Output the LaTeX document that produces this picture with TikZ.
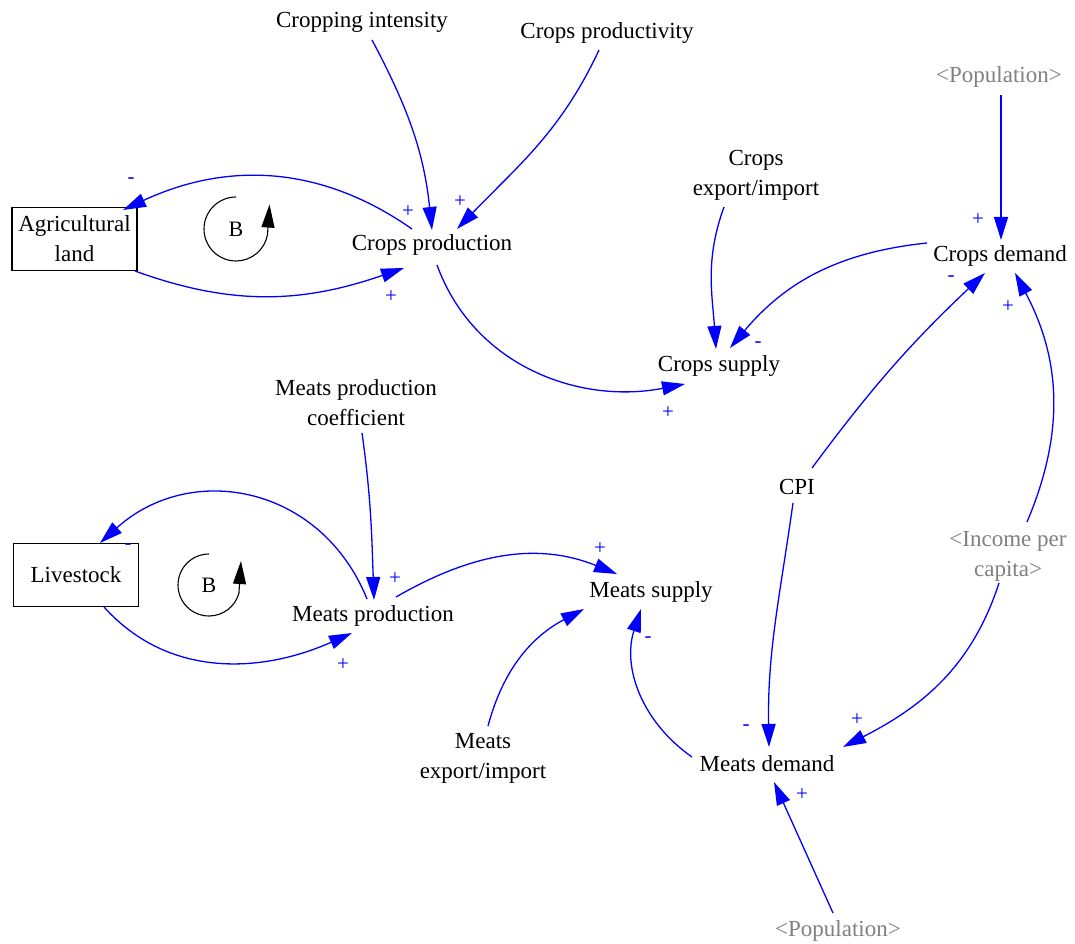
\documentclass[tikz,border=0pt]{standalone}
\usepackage{fontspec}
\setmainfont{Liberation Serif}
\usetikzlibrary{arrows.meta}
\definecolor{shadowgray}{RGB}{128,128,128}
\begin{document}
\begin{tikzpicture}[x=1pt,y=1pt,
  var/.style={inner sep=0pt,align=center,font=\fontsize{23}{30}\selectfont},
  shadow/.style={var,text=shadowgray},
  stock/.style={var,draw=black,line width=1.1pt,minimum width=125pt,minimum height=63pt},
  link/.style={draw=blue,line width=1.3pt,-{Triangle[length=23pt,width=14pt]}},
  pol/.style={inner sep=0pt,text=blue,font=\fontsize{21}{21}\selectfont},
  looparrow/.style={draw=black,line width=1.1pt,-{Triangle[length=23pt,width=13pt]}},
  looptext/.style={inner sep=0pt,font=\fontsize{22}{22}\selectfont}]
\useasboundingbox (0,0) rectangle (1075,943);

% variables
\node[var] (ci) at (362,921) {Cropping intensity};
\node[var] (cp) at (607,910) {Crops productivity};
\node[shadow] (pop1) at (999,866) {<Population>};
\node[var] (cei) at (756,768) {Crops\\export/import};
\node[stock] (al) at (74.5,704) {Agricultural\\land};
\node[var] (cprod) at (432,698) {Crops production};
\node[var] (cdem) at (1000,687) {Crops demand};
\node[var] (csup) at (719,577) {Crops supply};
\node[var] (mpc) at (356,540) {Meats production\\coefficient};
\node[var] (cpi) at (797,456) {CPI};
\node[shadow] (inc) at (1008,387) {<Income per\\capita>};
\node[stock] (ls) at (76,368) {Livestock};
\node[var] (mprod) at (373,327) {Meats production};
\node[var] (msup) at (651,351) {Meats supply};
\node[var] (mei) at (483,185) {Meats\\export/import};
\node[var] (mdem) at (767,179) {Meats demand};
\node[shadow] (pop2) at (838,12) {<Population>};

% loop symbols
\node[looptext] (b1) at (236,714) {B};
\draw[looparrow] ([yshift=32]b1.center) arc[start angle=90,end angle=350,radius=32] -- ++(2,30);
\node[looptext] (b2) at (209,358) {B};
\draw[looparrow] ([yshift=31]b2.center) arc[start angle=90,end angle=345,radius=31] -- ++(2,32);

% links
\draw[link] ([shift={(10,-18)}]ci.center) to[out=-62,in=96] ([shift={(0,15)}]cprod.center);
\draw[link] ([shift={(-8,-17)}]cp.center) to[out=-115,in=46] ([shift={(25,16)}]cprod.center);
\draw[link] ([shift={(-20,16)}]cprod.center) to[out=145,in=25] ([shift={(48.5,29)}]al.center);
\draw[link] ([shift={(60.5,-32)}]al.center) to[out=-20,in=199] ([shift={(-28,-23)}]cprod.center);
\draw[link] ([shift={(5,-20)}]cprod.center) to[out=-70,in=191] ([shift={(-34,-18)}]csup.center);
\draw[link] ([shift={(-32,-32)}]cei.center) to[out=-110,in=94] ([shift={(-3,17)}]csup.center);
\draw[link] ([shift={(-73,13)}]cdem.center) to[out=186,in=50] ([shift={(11,18)}]csup.center);
\draw[link] ([shift={(2,-18)}]pop1.center) -- ([shift={(1,16)}]cdem.center);
\draw[link] ([shift={(15,19)}]cpi.center) to[bend left=5] ([shift={(-15,-17)}]cdem.center);
\draw[link] ([shift={(19,34)}]inc.center) to[out=67,in=-62] ([shift={(15,-17)}]cdem.center);
\draw[link] ([shift={(-4,-16)}]cpi.center) to[out=-98,in=91] ([shift={(2,17)}]mdem.center);
\draw[link] ([shift={(-9,-27)}]inc.center) to[out=-108,in=27] ([shift={(76,17)}]mdem.center);
\draw[link] ([shift={(-75,7)}]mdem.center) to[out=145,in=-108] ([shift={(-10,-17)}]msup.center);
\draw[link] ([shift={(-5,18)}]pop2.center) -- ([shift={(7,-18)}]mdem.center);
\draw[link] ([shift={(5,32)}]mei.center) to[out=75,in=208] ([shift={(-67,-17)}]msup.center);
\draw[link] ([shift={(23,19)}]mprod.center) to[out=30,in=158] ([shift={(-34,18)}]msup.center);
\draw[link] ([shift={(6,-30)}]mpc.center) to[out=-82,in=92] ([shift={(1,16)}]mprod.center);
\draw[link] ([shift={(-6,17)}]mprod.center) to[out=112,in=42,looseness=1.15] ([shift={(24,32)}]ls.center);
\draw[link] ([shift={(28,-32)}]ls.center) to[out=-48,in=204] ([shift={(-21,-17)}]mprod.center);

% polarities
\node[pol] (p1) at (408,731) {+};
\node[pol] (p2) at (460,741) {+};
\node[pol] (p3) at (131,762) {-};
\node[pol] (p4) at (391,646) {+};
\node[pol] (p5) at (668,530) {+};
\node[pol] (p6) at (758,598) {-};
\node[pol] (p7) at (978,723) {+};
\node[pol] (p8) at (951,664) {-};
\node[pol] (p9) at (1008,636) {+};
\node[pol] (p10) at (746,215) {-};
\node[pol] (p11) at (857,223) {+};
\node[pol] (p12) at (648,303) {-};
\node[pol] (p13) at (802,148) {+};
\node[pol] (p14) at (600,394) {+};
\node[pol] (p15) at (395,364) {+};
\node[pol] (p16) at (128,396) {-};
\node[pol] (p17) at (343,278) {+};
\end{tikzpicture}
\end{document}
